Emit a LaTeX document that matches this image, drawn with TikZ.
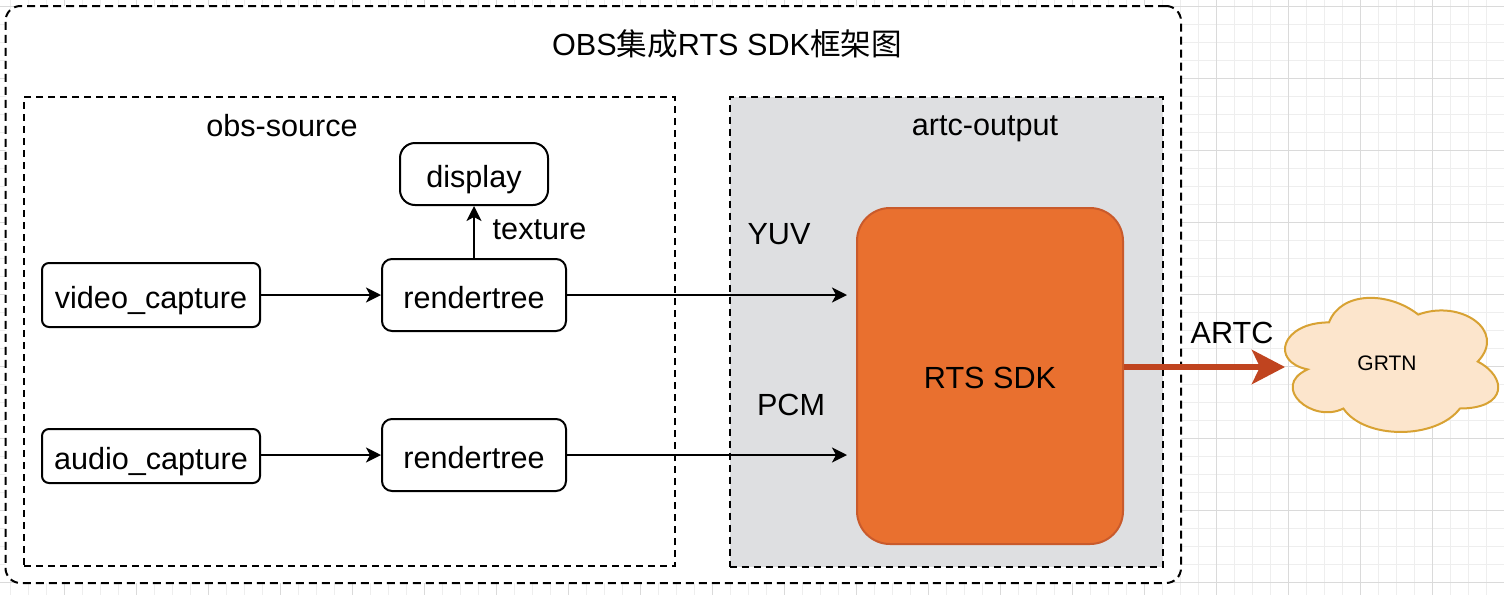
\documentclass[tikz,border=0pt]{standalone}
\usepackage{fontspec}
\setmainfont{Liberation Sans}
\newfontfamily\cjk{Noto Sans CJK SC}
\usetikzlibrary{arrows.meta,calc}
\definecolor{gridminor}{HTML}{EEEEEE}
\definecolor{gridmajor}{HTML}{DADADA}
\definecolor{artcfill}{HTML}{DEDFE1}
\definecolor{sdkfill}{HTML}{E9702F}
\definecolor{sdkdraw}{HTML}{C95A2B}
\definecolor{artcarrow}{HTML}{C0441F}
\definecolor{cloudfill}{HTML}{FCE5CC}
\definecolor{clouddraw}{HTML}{D8A233}
\begin{document}
\begin{tikzpicture}[x=0.5pt,y=-0.5pt,
  lbl/.style={font=\fontsize{15.3}{18}\selectfont, inner sep=0pt,
    text height=11pt, text depth=0pt},
  procbox/.style={draw=black, line width=1pt, fill=white, inner sep=0pt,
    font=\fontsize{15.3}{18}\selectfont, text height=13pt, text depth=0pt},
  container/.style={draw=black, line width=1pt, inner sep=0pt,
    dash pattern=on 3.5pt off 2.5pt},
  flow/.style={line width=1pt, -{Stealth[length=7.5pt,width=7.5pt,inset=2pt]}},
  bigflow/.style={draw=artcarrow, line width=3pt,
    -{Stealth[length=16.5pt,width=17pt,inset=4pt]}}
]
\useasboundingbox (0,0) rectangle (1504,595);
% background grid
\fill[white] (0,0) rectangle (1504,595);
\foreach \i in {0,...,83} \draw[gridminor, line width=0.5pt] ({10+18*\i},0) -- ({10+18*\i},595);
\foreach \j in {0,...,32} \draw[gridminor, line width=0.5pt] (0,{6+18*\j}) -- (1504,{6+18*\j});
\foreach \i in {0,...,20} \draw[gridmajor, line width=0.5pt] ({64+72*\i},0) -- ({64+72*\i},595);
\foreach \j in {0,...,8} \draw[gridmajor, line width=0.5pt] (0,{6+72*\j}) -- (1504,{6+72*\j});

% outer frame
\node[draw=black, fill=white, line width=1pt, rounded corners=7.5pt,
  dash pattern=on 4pt off 2.5pt, minimum width=587.75pt, minimum height=288.5pt,
  inner sep=0pt] (outer) at (593.25,294.5) {};
\node[lbl] (title) at (727,44) {OBS{\cjk 集成}RTS SDK{\cjk 框架图}};

% containers
\node[container, fill=white, minimum width=325.5pt, minimum height=234.5pt] (obs) at (349.5,331.5) {};
\node[container, fill=artcfill, minimum width=216.5pt, minimum height=235pt] (artc) at (946,331.5) {};
\node[lbl] (obslabel) at (282,125.5) {obs-source};
\node[lbl] (artclabel) at (985,124.5) {artc-output};

% process boxes
\node[procbox, rounded corners=3.5pt, minimum width=109pt, minimum height=32pt] (vc) at (151,295) {video\_capture};
\node[procbox, rounded corners=3.5pt, minimum width=109pt, minimum height=27pt] (ac) at (151,456) {audio\_capture};
\node[procbox, rounded corners=5pt, minimum width=92pt, minimum height=36pt] (rt1) at (474,295) {rendertree};
\node[procbox, rounded corners=5pt, minimum width=92pt, minimum height=36pt] (rt2) at (474,455) {rendertree};
\node[procbox, rounded corners=7.5pt, minimum width=74pt, minimum height=31pt] (disp) at (474,174) {display};
\node[draw=sdkdraw, fill=sdkfill, line width=1pt, rounded corners=16.5pt,
  minimum width=133pt, minimum height=168pt, inner sep=0pt,
  font=\fontsize{15.3}{18}\selectfont, text height=12pt, text depth=0pt] (sdk) at (990,376) {RTS SDK};

% cloud
\filldraw[fill=cloudfill, draw=clouddraw, line width=1pt]
  (1329.0,322.4)
  .. controls (1281.4,322.4) and (1269.5,361.55) .. (1307.6,369.4)
  .. controls (1269.5,386.6) and (1312.3,424.2) .. (1343.3,408.5)
  .. controls (1364.7,439.8) and (1436.1,439.8) .. (1459.9,408.5)
  .. controls (1507.5,408.5) and (1507.5,377.2) .. (1477.75,361.55)
  .. controls (1507.5,330.25) and (1459.9,298.95) .. (1418.25,314.6)
  .. controls (1388.5,291.1) and (1340.9,291.1) .. (1329.0,322.4) -- cycle;
\node[inner sep=0pt, font=\fontsize{10.5}{12}\selectfont, text height=7.6pt, text depth=0pt] (grtn) at (1387,363) {GRTN};
\coordinate (cloudtip) at (1285,367);

% connectors
\draw[flow] (vc.east) -- (rt1.west);
\draw[flow] (ac.east |- rt2.west) -- (rt2.west);
\draw[flow] (rt1.north) -- (disp.south);
\draw[flow, shorten >=4.5pt] (rt1.east) -- (rt1.east -| sdk.west);
\draw[flow, shorten >=4.5pt] (rt2.east) -- (rt2.east -| sdk.west);
\draw[bigflow] (sdk.east |- cloudtip) -- (cloudtip);

% connector labels
\node[lbl] (texlabel) at (539.5,228) {texture};
\node[lbl] (yuvlabel) at (779,233) {YUV};
\node[lbl] (pcmlabel) at (791,404) {PCM};
\node[lbl] (artcarrowlabel) at (1232,332) {ARTC};
\end{tikzpicture}
\end{document}
